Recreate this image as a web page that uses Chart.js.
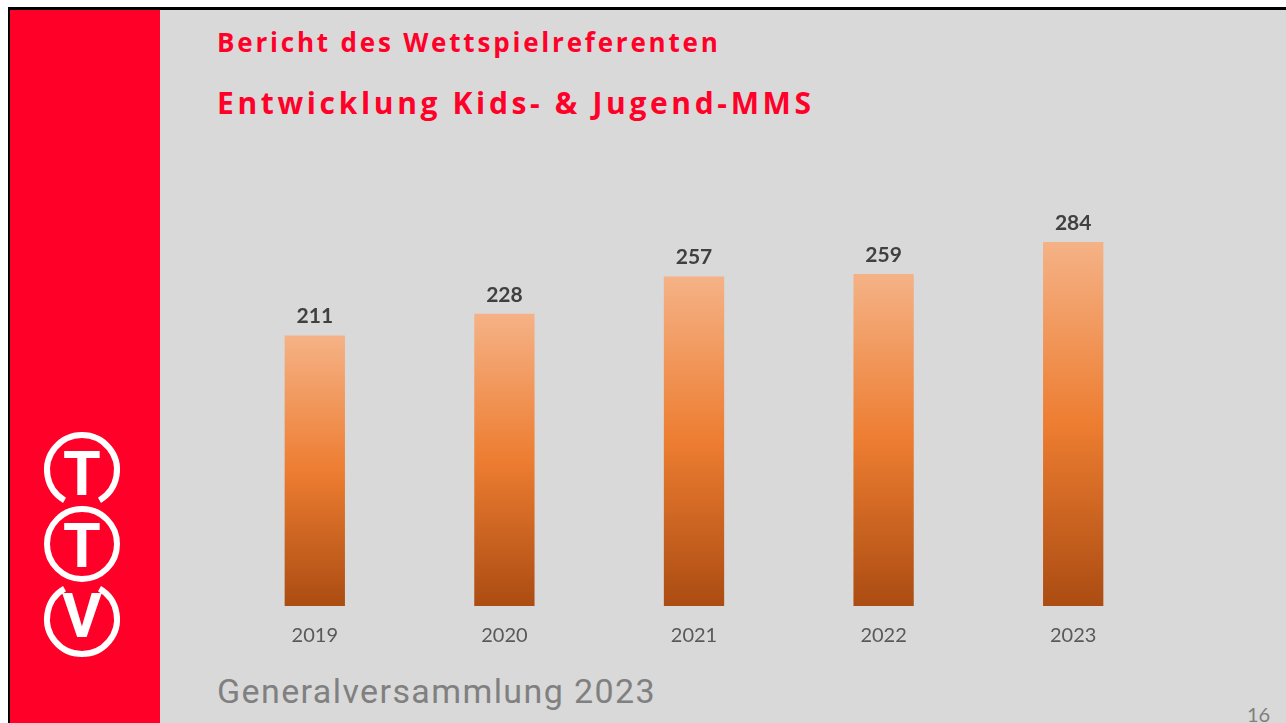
<!DOCTYPE html>
<html>
<head>
<meta charset="utf-8">
<script src="https://cdn.jsdelivr.net/npm/chart.js@4"></script>
<style>
  html, body { margin: 0; padding: 0; background: #fff; }
  body { width: 1286px; height: 723px; position: relative; overflow: hidden; }
  #slide {
    position: absolute; left: 8px; top: 7px; width: 1290px; height: 730px;
    background: #d9d9d9; border: 3px solid #000; box-sizing: border-box;
  }
  #redbar { position: absolute; left: 10px; top: 10px; width: 150px; height: 713px; background: #ff0029; }
  .title1, .title2 {
    position: absolute; left: 217px; color: #ff0029; font-family: "Open Sans", sans-serif;
    font-weight: bold; white-space: nowrap; line-height: 1;
  }
  .title1 { top: 29px; font-size: 26px; letter-spacing: 2.8px; }
  .title2 { top: 88px; font-size: 30px; letter-spacing: 3.65px; }
  #footer {
    position: absolute; left: 217px; top: 674px; font-family: Roboto, sans-serif;
    font-size: 34px; line-height: 1; letter-spacing: 1.4px; color: #808080; white-space: nowrap;
  }
  #pagenum {
    position: absolute; left: 1247px; top: 704px; font-family: Lato, sans-serif;
    font-size: 20px; line-height: 1; color: #7f7f7f;
  }
  #logo { position: absolute; left: 37px; top: 425px; }
  #chartBox { position: absolute; left: 220px; top: 180px; width: 948px; height: 486px; }
</style>
</head>
<body>
<div id="slide"></div>
<div id="redbar"></div>
<div class="title1">Bericht des Wettspielreferenten</div>
<div class="title2">Entwicklung Kids- &amp; Jugend-MMS</div>

<svg id="logo" width="90" height="240" viewBox="0 0 90 240">
  <g fill="none" stroke="#fff" stroke-width="6">
    <path d="M 27.5 75.3 A 35 35 0 1 1 62.5 75.3" />
    <circle cx="45" cy="119" r="35" />
    <path d="M 62.5 163.7 A 35 35 0 1 1 27.5 163.7" />
  </g>
  <g fill="#fff" font-family="'Liberation Sans Narrow', Roboto, sans-serif" font-weight="bold" font-size="61" text-anchor="middle">
    <text x="45" y="70">T</text>
    <text x="45" y="142">T</text>
    <text x="45" y="212">V</text>
  </g>
</svg>

<div id="footer">Generalversammlung 2023</div>
<div id="pagenum">16</div>

<div id="chartBox"><canvas id="chart"></canvas></div>

<script>
// values
const years  = ["2019", "2020", "2021", "2022", "2023"];
const counts = [211, 228, 257, 259, 284];

// per-bar vertical gradient: peach at top, orange in the middle, brown at the base
function barGradient(ctx) {
  const chart = ctx.chart;
  if (!chart.chartArea || ctx.type !== "data") return "#ed7d31";
  const y = chart.scales.y;
  const top = y.getPixelForValue(ctx.raw);
  const base = y.getPixelForValue(0);
  const g = chart.ctx.createLinearGradient(0, top, 0, base);
  g.addColorStop(0, "#f5b286");
  g.addColorStop(0.5, "#ed7d31");
  g.addColorStop(1, "#ab4c12");
  return g;
}

// values above the bars
const valueLabels = {
  id: "valueLabels",
  afterDatasetsDraw(chart) {
    const c = chart.ctx;
    const meta = chart.getDatasetMeta(0);
    c.save();
    c.font = "bold 21px Lato, sans-serif";
    c.fillStyle = "#404040";
    c.textAlign = "center";
    c.textBaseline = "middle";
    meta.data.forEach((bar, i) => {
      c.fillText(String(counts[i]), bar.x, bar.y - 19);
    });
    c.restore();
  },
};

new Chart(document.getElementById("chart"), {
  type: "bar",
  data: {
    labels: years,
    datasets: [{
      data: counts,
      backgroundColor: barGradient,
      borderWidth: 0,
      barPercentage: 1,
      categoryPercentage: 0.318,
    }],
  },
  options: {
    responsive: true,
    maintainAspectRatio: false,
    animation: false,
    layout: { padding: { top: 41.5 } },
    plugins: { legend: { display: false }, tooltip: { enabled: false } },
    scales: {
      x: {
        grid:   { display: false, drawTicks: false },
        border: { display: false },
        ticks:  { color: "#595959", font: { family: "Lato", size: 20 }, padding: 18 },
      },
      y: { display: false, min: 0, max: 300 },
    },
  },
  plugins: [valueLabels],
});
</script>
</body>
</html>
